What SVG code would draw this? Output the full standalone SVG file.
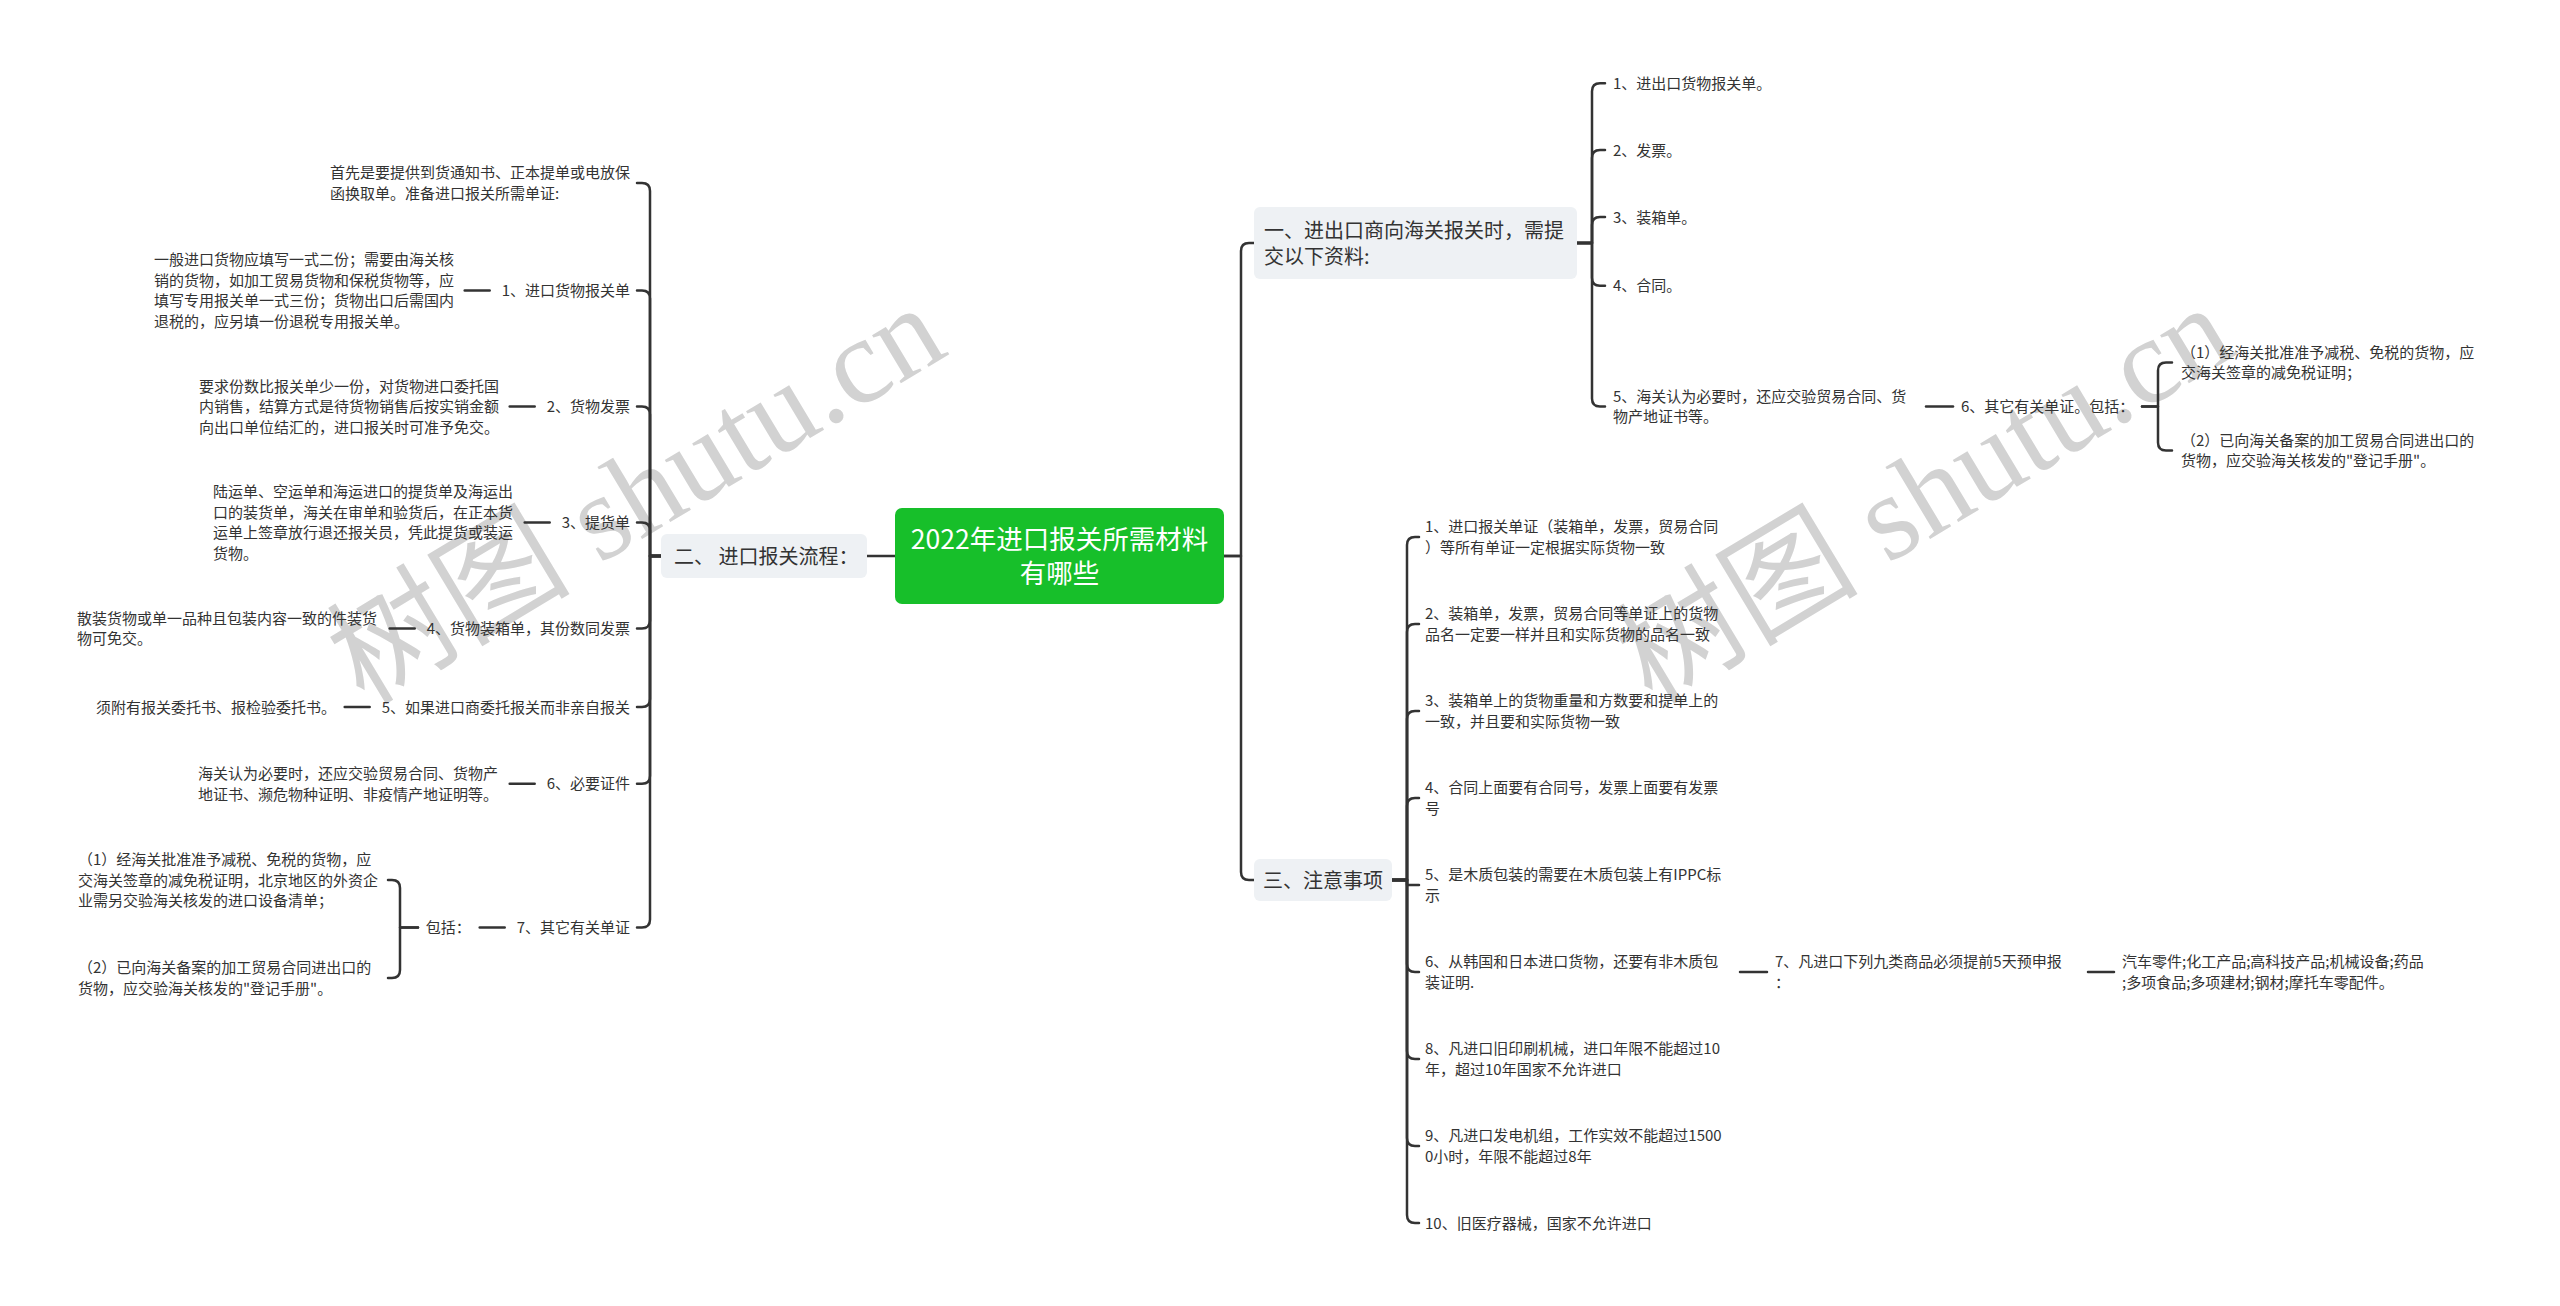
<svg xmlns="http://www.w3.org/2000/svg" width="2560" height="1306" viewBox="0 0 2560 1306">
<style>
.t{font-family:'Noto Sans CJK SC','Noto Sans',sans-serif;font-size:15px;fill:#333}
.n{font-family:'Noto Sans CJK SC','Noto Sans',sans-serif;font-size:20px;fill:#333}
.h{font-family:'Noto Sans CJK SC','Noto Sans',sans-serif;font-size:26.5px;fill:#fff}
.wm{font-family:'Liberation Serif','Noto Sans CJK SC',serif;font-size:122px;fill:#d2d2d2}
.c path{fill:none;stroke:#333;stroke-width:2.5;stroke-linecap:round;stroke-linejoin:round}
.box{fill:#eef1f4}
</style>
<rect width="2560" height="1306" fill="#fff"/>
<g id="watermarks">
<text class="wm" transform="translate(364 706) rotate(-31)">树图 shutu.cn</text>
<text class="wm" transform="translate(1652 706) rotate(-31)">树图 shutu.cn</text>
</g>
<g id="connectors" class="c">
<path d="M895 556 H867"/>
<path d="M661 556 H650 V191 Q650 183 642 183 H637"/>
<path d="M661 556 H650 V298.6 Q650 290.6 642 290.6 H637"/>
<path d="M661 556 H650 V414.5 Q650 406.5 642 406.5 H637"/>
<path d="M661 556 H650 V530.5 Q650 522.5 642 522.5 H637"/>
<path d="M661 556 H650 V620.6 Q650 628.6 642 628.6 H637"/>
<path d="M661 556 H650 V699 Q650 707 642 707 H637"/>
<path d="M661 556 H650 V775.7 Q650 783.7 642 783.7 H637"/>
<path d="M661 556 H650 V919.4 Q650 927.4 642 927.4 H637"/>
<path d="M489.7 290.6 H464.7"/>
<path d="M534.7 406.5 H509.7"/>
<path d="M549.7 522.5 H524.7"/>
<path d="M414.7 628.6 H389.7"/>
<path d="M369.7 707 H344.7"/>
<path d="M534.7 783.7 H509.7"/>
<path d="M504.7 927.4 H479.7"/>
<path d="M418 927.4 H400 V888 Q400 880 392 880 H388"/>
<path d="M418 927.4 H400 V970 Q400 978 392 978 H388"/>
<path d="M1224 556 H1241 V251 Q1241 243 1249 243 H1254"/>
<path d="M1224 556 H1241 V872 Q1241 880 1249 880 H1254"/>
<path d="M1577 243 H1592 V91.3 Q1592 83.3 1600 83.3 H1605"/>
<path d="M1577 243 H1592 V158 Q1592 150 1600 150 H1605"/>
<path d="M1577 243 H1592 V225 Q1592 217 1600 217 H1605"/>
<path d="M1577 243 H1592 V277.7 Q1592 285.7 1600 285.7 H1605"/>
<path d="M1577 243 H1592 V398.5 Q1592 406.5 1600 406.5 H1605"/>
<path d="M1926 406.5 H1953"/>
<path d="M2142 406.5 H2158 V370.5 Q2158 362.5 2166 362.5 H2172"/>
<path d="M2142 406.5 H2158 V442.6 Q2158 450.6 2166 450.6 H2172"/>
<path d="M1391 880 H1407 V545 Q1407 537 1415 537 H1419"/>
<path d="M1391 880 H1407 V632 Q1407 624 1415 624 H1419"/>
<path d="M1391 880 H1407 V719 Q1407 711 1415 711 H1419"/>
<path d="M1391 880 H1407 V806 Q1407 798 1415 798 H1419"/>
<path d="M1391 880 H1407 V885 H1419"/>
<path d="M1391 880 H1407 V964 Q1407 972 1415 972 H1419"/>
<path d="M1391 880 H1407 V1051 Q1407 1059 1415 1059 H1419"/>
<path d="M1391 880 H1407 V1138 Q1407 1146 1415 1146 H1419"/>
<path d="M1391 880 H1407 V1215 Q1407 1223 1415 1223 H1419"/>
<path d="M1740 972 H1767"/>
<path d="M2088 972 H2114"/>
</g>
<g id="root">
<rect x="895" y="508" width="329" height="96" rx="7" fill="#17bf2a"/>
<text class="h" x="1059.5" y="548.5" text-anchor="middle">2022年进口报关所需材料</text>
<text class="h" x="1059.5" y="582.5" text-anchor="middle">有哪些</text>
</g>
<g id="node-er">
<rect class="box" x="661" y="534" width="206" height="44" rx="6"/>
<text class="n" x="674" y="563.5">二、 进口报关流程：</text>
</g>
<g id="node-a"><text class="t" x="330" y="178.3">首先是要提供到货通知书、正本提单或电放保</text><text class="t" x="330" y="198.8">函换取单。准备进口报关所需单证:</text></g>
<g id="node-l1"><text class="t" x="630" y="296" text-anchor="end">1、进口货物报关单</text></g>
<g id="node-l1c"><text class="t" x="154" y="265.4">一般进口货物应填写一式二份；需要由海关核</text><text class="t" x="154" y="285.9">销的货物，如加工贸易货物和保税货物等，应</text><text class="t" x="154" y="306.4">填写专用报关单一式三份；货物出口后需国内</text><text class="t" x="154" y="326.9">退税的，应另填一份退税专用报关单。</text></g>
<g id="node-l2"><text class="t" x="630" y="412" text-anchor="end">2、货物发票</text></g>
<g id="node-l2c"><text class="t" x="199" y="391.5">要求份数比报关单少一份，对货物进口委托国</text><text class="t" x="199" y="412">内销售，结算方式是待货物销售后按实销金额</text><text class="t" x="199" y="432.5">向出口单位结汇的，进口报关时可准予免交。</text></g>
<g id="node-l3"><text class="t" x="630" y="528" text-anchor="end">3、提货单</text></g>
<g id="node-l3c"><text class="t" x="213" y="497.3">陆运单、空运单和海运进口的提货单及海运出</text><text class="t" x="213" y="517.8">口的装货单，海关在审单和验货后，在正本货</text><text class="t" x="213" y="538.3">运单上签章放行退还报关员，凭此提货或装运</text><text class="t" x="213" y="558.8">货物。</text></g>
<g id="node-l4"><text class="t" x="630" y="634" text-anchor="end">4、货物装箱单，其份数同发票</text></g>
<g id="node-l4c"><text class="t" x="77" y="623.9">散装货物或单一品种且包装内容一致的件装货</text><text class="t" x="77" y="644.4">物可免交。</text></g>
<g id="node-l5"><text class="t" x="630" y="712.5" text-anchor="end">5、如果进口商委托报关而非亲自报关</text></g>
<g id="node-l5c"><text class="t" x="336" y="712.5" text-anchor="end">须附有报关委托书、报检验委托书。</text></g>
<g id="node-l6"><text class="t" x="630" y="789" text-anchor="end">6、必要证件</text></g>
<g id="node-l6c"><text class="t" x="198" y="779">海关认为必要时，还应交验贸易合同、货物产</text><text class="t" x="198" y="799.5">地证书、濒危物种证明、非疫情产地证明等。</text></g>
<g id="node-l7"><text class="t" x="630" y="933" text-anchor="end">7、其它有关单证</text></g>
<g id="node-l7c"><text class="t" x="470.7" y="933" text-anchor="end">包括：</text></g>
<g id="node-l7c1"><text class="t" x="78" y="865">（1）经海关批准准予减税、免税的货物，应</text><text class="t" x="78" y="885.5">交海关签章的减免税证明，北京地区的外资企</text><text class="t" x="78" y="906">业需另交验海关核发的进口设备清单；</text></g>
<g id="node-l7c2"><text class="t" x="78" y="973.3">（2）已向海关备案的加工贸易合同进出口的</text><text class="t" x="78" y="993.8">货物，应交验海关核发的"登记手册"。</text></g>
<g id="node-yi">
<rect class="box" x="1254" y="207" width="323" height="72" rx="6"/>
<text class="n" x="1264" y="237.5">一、进出口商向海关报关时，需提</text>
<text class="n" x="1264" y="263.5">交以下资料:</text>
</g>
<g id="node-r1"><text class="t" x="1613" y="88.8">1、进出口货物报关单。</text></g>
<g id="node-r2"><text class="t" x="1613" y="155.5">2、发票。</text></g>
<g id="node-r3"><text class="t" x="1613" y="222.5">3、装箱单。</text></g>
<g id="node-r4"><text class="t" x="1613" y="291.2">4、合同。</text></g>
<g id="node-r5"><text class="t" x="1613" y="401.8">5、海关认为必要时，还应交验贸易合同、货</text><text class="t" x="1613" y="422.3">物产地证书等。</text></g>
<g id="node-r6"><text class="t" x="1961" y="412">6、其它有关单证。包括：</text></g>
<g id="node-r6a"><text class="t" x="2181" y="357.8">（1）经海关批准准予减税、免税的货物，应</text><text class="t" x="2181" y="378.3">交海关签章的减免税证明；</text></g>
<g id="node-r6b"><text class="t" x="2181" y="445.9">（2）已向海关备案的加工贸易合同进出口的</text><text class="t" x="2181" y="466.4">货物，应交验海关核发的"登记手册"。</text></g>
<g id="node-san">
<rect class="box" x="1254" y="859" width="138" height="42" rx="6"/>
<text class="n" x="1263" y="887.5">三、注意事项</text>
</g>
<g id="node-c1"><text class="t" x="1425" y="532.3">1、进口报关单证（装箱单，发票，贸易合同</text><text class="t" x="1425" y="552.8">）等所有单证一定根据实际货物一致</text></g>
<g id="node-c2"><text class="t" x="1425" y="619.3">2、装箱单，发票，贸易合同等单证上的货物</text><text class="t" x="1425" y="639.8">品名一定要一样并且和实际货物的品名一致</text></g>
<g id="node-c3"><text class="t" x="1425" y="706.3">3、装箱单上的货物重量和方数要和提单上的</text><text class="t" x="1425" y="726.8">一致，并且要和实际货物一致</text></g>
<g id="node-c4"><text class="t" x="1425" y="793.3">4、合同上面要有合同号，发票上面要有发票</text><text class="t" x="1425" y="813.8">号</text></g>
<g id="node-c5"><text class="t" x="1425" y="880.3">5、是木质包装的需要在木质包装上有IPPC标</text><text class="t" x="1425" y="900.8">示</text></g>
<g id="node-c6"><text class="t" x="1425" y="967.3">6、从韩国和日本进口货物，还要有非木质包</text><text class="t" x="1425" y="987.8">装证明.</text></g>
<g id="node-c7"><text class="t" x="1775" y="967.3">7、凡进口下列九类商品必须提前5天预申报</text><text class="t" x="1775" y="987.8">：</text></g>
<g id="node-c7a"><text class="t" x="2122" y="967.3">汽车零件;化工产品;高科技产品;机械设备;药品</text><text class="t" x="2122" y="987.8">;多项食品;多项建材;钢材;摩托车零配件。</text></g>
<g id="node-c8"><text class="t" x="1425" y="1054.3">8、凡进口旧印刷机械，进口年限不能超过10</text><text class="t" x="1425" y="1074.8">年，超过10年国家不允许进口</text></g>
<g id="node-c9"><text class="t" x="1425" y="1141.3">9、凡进口发电机组，工作实效不能超过1500</text><text class="t" x="1425" y="1161.8">0小时，年限不能超过8年</text></g>
<g id="node-c10"><text class="t" x="1425" y="1228.5">10、旧医疗器械，国家不允许进口</text></g>
</svg>
